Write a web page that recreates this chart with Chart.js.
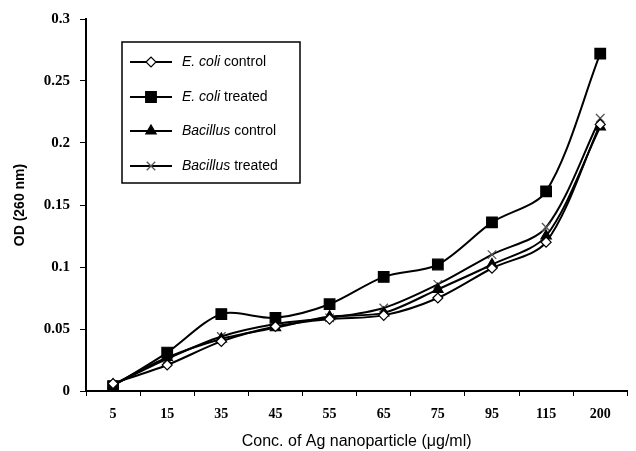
<!DOCTYPE html>
<html>
<head>
<meta charset="utf-8">
<script src="https://cdn.jsdelivr.net/npm/chart.js@4/dist/chart.umd.min.js"></script>
<style>
  html, body { margin: 0; padding: 0; background: #fff; }
  #wrap { width: 636px; height: 451px; }
</style>
</head>
<body>
<div id="wrap"><canvas id="chart"></canvas></div>
<script>
// concentrations (µg/ml)
const concentrations = ['5', '15', '35', '45', '55', '65', '75', '95', '115', '200'];

// OD at 260 nm
const ecoliControl   = [0.006, 0.021, 0.040, 0.052, 0.058, 0.061, 0.075, 0.099, 0.120, 0.215];
const ecoliTreated   = [0.004, 0.031, 0.062, 0.059, 0.070, 0.092, 0.102, 0.136, 0.161, 0.272];
const bacillusControl = [0.005, 0.027, 0.042, 0.051, 0.060, 0.063, 0.082, 0.102, 0.125, 0.213];
const bacillusTreated = [0.005, 0.026, 0.044, 0.054, 0.059, 0.067, 0.086, 0.110, 0.132, 0.220];

const organisms = ['E. coli', 'E. coli', 'Bacillus', 'Bacillus'];
const conditions = ['control', 'treated', 'control', 'treated'];

const yTicks = [0, 0.05, 0.1, 0.15, 0.2, 0.25, 0.3];

function makeSet(i, data, style, radius, fill, border) {
    return {
        label: organisms[i] + ' ' + conditions[i],
        data: data,
        borderColor: '#000',
        borderWidth: 2,
        tension: 0.3,
        pointStyle: style,
        pointRadius: radius,
        pointBackgroundColor: fill,
        pointBorderColor: border,
        pointBorderWidth: style === 'crossRot' ? 1.3 : 1.2
    };
}

// legend drawn inside the plot, with italic species names
const boxLegend = {
    id: 'boxLegend',
    afterDraw(chart) {
        const ctx = chart.ctx;
        const left = 122, top = 42, w = 178, h = 141;
        const rows = [62, 97, 131, 166];
        ctx.save();
        ctx.fillStyle = '#fff';
        ctx.fillRect(left, top, w, h);
        ctx.strokeStyle = '#000';
        ctx.lineWidth = 1.5;
        ctx.strokeRect(left, top, w, h);
        chart.data.datasets.forEach(function(ds, i) {
            const y = rows[i];
            ctx.strokeStyle = '#000';
            ctx.lineWidth = 2;
            ctx.beginPath();
            ctx.moveTo(130, y);
            ctx.lineTo(172, y);
            ctx.stroke();
            ctx.fillStyle = ds.pointBackgroundColor;
            ctx.strokeStyle = ds.pointBorderColor;
            ctx.lineWidth = ds.pointBorderWidth;
            Chart.helpers.drawPoint(ctx, {
                pointStyle: ds.pointStyle,
                radius: ds.pointRadius,
                rotation: 0,
                borderWidth: ds.pointBorderWidth
            }, 151, y);
            ctx.fillStyle = '#000';
            ctx.textBaseline = 'middle';
            ctx.textAlign = 'left';
            ctx.font = 'italic 14px "Liberation Sans", Arial, sans-serif';
            ctx.fillText(organisms[i], 182, y);
            const wi = ctx.measureText(organisms[i] + ' ').width;
            ctx.font = '14px "Liberation Sans", Arial, sans-serif';
            ctx.fillText(conditions[i], 182 + wi, y);
        });
        ctx.restore();
    }
};

new Chart(document.getElementById('chart'), {
    type: 'line',
    data: {
        labels: concentrations,
        datasets: [
            makeSet(0, ecoliControl, 'rectRot', 5, '#fff', '#000'),
            makeSet(1, ecoliTreated, 'rect', 7.5, '#000', '#000'),
            makeSet(2, bacillusControl, 'triangle', 6, '#000', '#000'),
            makeSet(3, bacillusTreated, 'crossRot', 6, '#555', '#555')
        ]
    },
    options: {
        responsive: true,
        maintainAspectRatio: false,
        animation: false,
        layout: { padding: { top: 18, right: 1, bottom: 0, left: 0 } },
        plugins: {
            legend: { display: false },
            tooltip: { enabled: false }
        },
        scales: {
            x: {
                offset: true,
                afterFit: function(s) { s.height = 60; },
                border: { display: true, color: '#000', width: 2 },
                grid: { drawOnChartArea: false, drawTicks: true, tickLength: 5, color: '#000', offset: true },
                ticks: {
                    color: '#000',
                    padding: 10,
                    font: { family: '"Liberation Serif", "Times New Roman", serif', size: 14, weight: 'bold' }
                },
                title: {
                    display: true,
                    text: 'Conc. of Ag nanoparticle (\u03bcg/ml)',
                    color: '#000',
                    padding: { top: 4, bottom: 0 },
                    font: { family: '"Liberation Sans", Arial, sans-serif', size: 16 }
                }
            },
            y: {
                min: 0,
                max: 0.3,
                afterFit: function(s) { s.width = 86; },
                afterBuildTicks: function(s) { s.ticks = yTicks.map(function(v) { return { value: v }; }); },
                border: { display: true, color: '#000', width: 2 },
                grid: { drawOnChartArea: false, drawTicks: true, tickLength: 6, color: '#000' },
                ticks: {
                    color: '#000',
                    padding: 10,
                    callback: function(v) { return String(+v.toFixed(2)); },
                    font: { family: '"Liberation Serif", "Times New Roman", serif', size: 15, weight: 'bold' }
                },
                title: {
                    display: true,
                    text: 'OD (260 nm)',
                    color: '#000',
                    padding: { top: 12, bottom: 0 },
                    font: { family: '"Liberation Sans", Arial, sans-serif', size: 14, weight: 'bold' }
                }
            }
        }
    },
    plugins: [boxLegend]
});
</script>
</body>
</html>
